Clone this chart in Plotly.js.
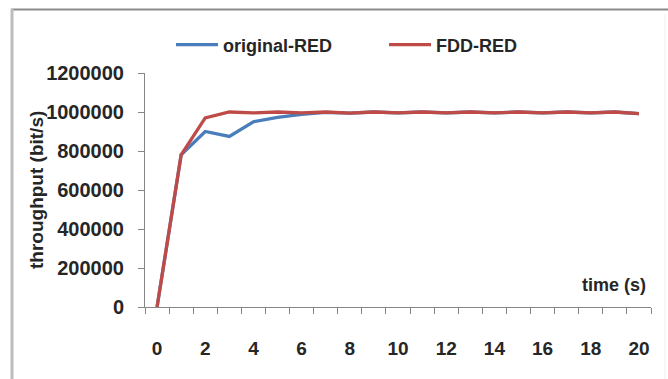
<!DOCTYPE html>
<html>
<head>
<meta charset="utf-8">
<script src="https://cdn.plot.ly/plotly-3.0.1.min.js"></script>
<style>
html,body{margin:0;padding:0;background:#fff;}
#chart{width:668px;height:379px;}
</style>
</head>
<body>
<div id="chart"></div>
<script>
const timeCats = [0,1,2,3,4,5,6,7,8,9,10,11,12,13,14,15,16,17,18,19,20];
const originalRED = [0,780000,900000,875000,950000,972000,988000,998000,994000,1000000,995000,1000000,995000,1000000,995000,1000000,995000,1000000,995000,1000000,992000];
const fddRED = [0,780000,970000,1000000,995000,1000000,995000,1000000,994000,1000000,995000,1000000,995000,1000000,995000,1000000,995000,1000000,995000,1000000,992000];
const xTickVals = [0,2,4,6,8,10,12,14,16,18,20];
const xTickText = ["0","2","4","6","8","10","12","14","16","18","20"];
const yTickVals = [0,200000,400000,600000,800000,1000000,1200000];
const yTickText = ["0","200000","400000","600000","800000","1000000","1200000"];

const FONT = "'Liberation Sans', Arial, sans-serif";
const TXT = "#262626";

const L = 145, R = 651, T = 73, B = 307;
const W = R - L, H = B - T;
const px = x => (x - L) / W;
const py = y => (B - y) / H;

const traces = [
  {x: timeCats, y: originalRED, type: 'scatter', mode: 'lines', name: 'original-RED',
   line: {color: '#4A7EBB', width: 3.3}},
  {x: timeCats, y: fddRED, type: 'scatter', mode: 'lines', name: 'FDD-RED',
   line: {color: '#BE4B48', width: 3.3}}
];

const layout = {
  width: 668, height: 379,
  margin: {l: L, r: 668 - R, t: T, b: 379 - B},
  paper_bgcolor: '#fff', plot_bgcolor: '#fff',
  font: {family: FONT, color: TXT},
  showlegend: true,
  legend: {orientation: 'h', x: px(171), xanchor: 'left', y: py(45), yanchor: 'middle',
           font: {family: FONT, size: 18, color: TXT, weight: 'bold'},
           entrywidth: 156, itemwidth: 42, bgcolor: 'rgba(0,0,0,0)'},
  xaxis: {range: [-0.5, 20.5], tickvals: xTickVals, ticktext: xTickText, ticks: '',
          showgrid: false, zeroline: false, showline: true, linecolor: '#868686', linewidth: 1,
          ticklabelstandoff: 24,
          tickfont: {family: FONT, size: 19, color: TXT, weight: 'bold'},
          minor: {tick0: -0.5, dtick: 1, ticks: 'outside', ticklen: 6, tickcolor: '#868686', showgrid: false},
          fixedrange: true},
  yaxis: {range: [0, 1200000], tickvals: yTickVals, ticktext: yTickText, ticks: 'outside',
          ticklen: 6, tickcolor: '#868686', showgrid: false, zeroline: false, showline: true,
          linecolor: '#868686', linewidth: 1, ticklabelstandoff: 10,
          tickfont: {family: FONT, size: 20, color: TXT, weight: 'bold'}, fixedrange: true},
  annotations: [
    {text: 'throughput (bit/s)', xref: 'paper', yref: 'paper', x: px(36), y: py(190),
     xanchor: 'center', yanchor: 'middle', textangle: -90, showarrow: false,
     font: {family: FONT, size: 19, color: TXT, weight: 'bold'}},
    {text: 'time (s)', xref: 'paper', yref: 'paper', x: px(648), y: py(285),
     xanchor: 'right', yanchor: 'middle', showarrow: false,
     font: {family: FONT, size: 18, color: TXT, weight: 'bold'}}
  ],
  shapes: [
    {type: 'line', xref: 'paper', yref: 'paper', x0: px(11), x1: px(668), y0: py(9.5), y1: py(9.5),
     line: {color: '#8a8a8a', width: 2}},
    {type: 'line', xref: 'paper', yref: 'paper', x0: px(12), x1: px(12), y0: py(9), y1: py(379),
     line: {color: '#bdbdbd', width: 3}},
    {type: 'line', xref: 'paper', yref: 'paper', x0: px(665), x1: px(665), y0: py(14), y1: py(379),
     line: {color: '#f0f0f0', width: 1}}
  ]
};

Plotly.newPlot('chart', traces, layout, {displayModeBar: false, staticPlot: true});
</script>
</body>
</html>
